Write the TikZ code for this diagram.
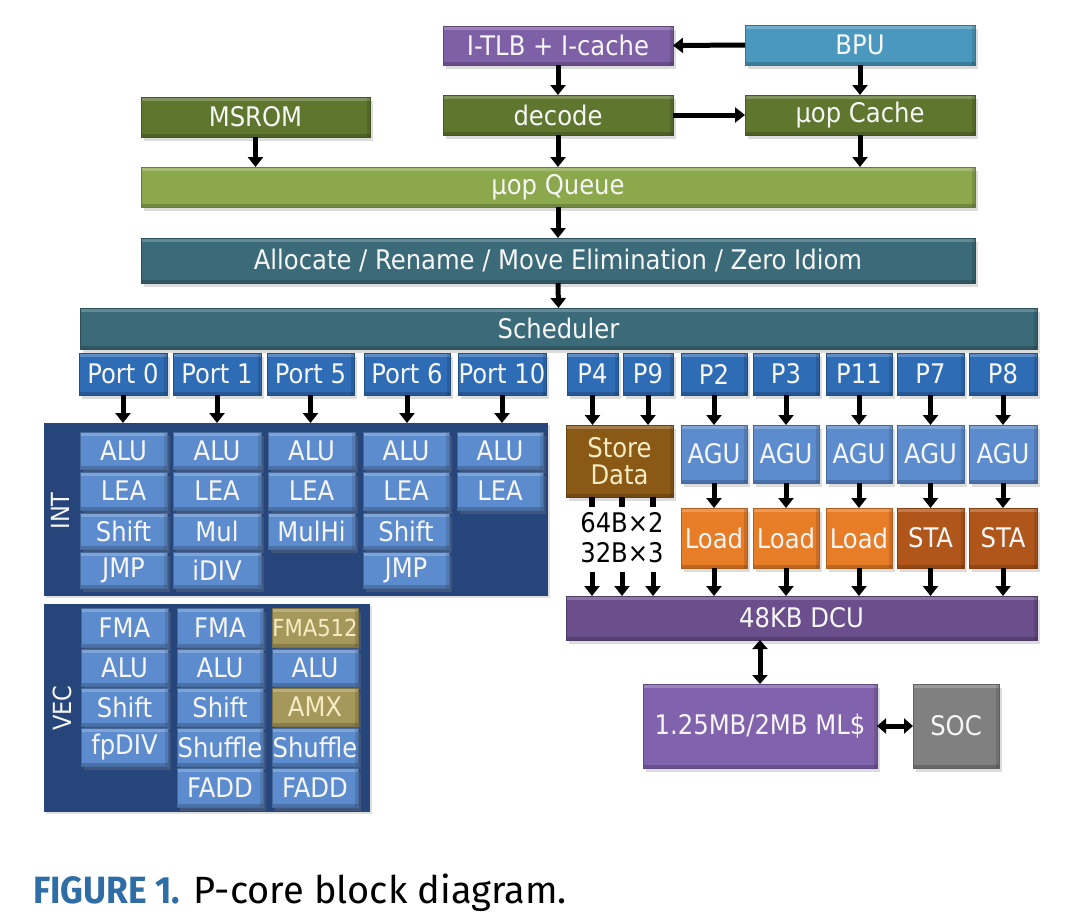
\documentclass[tikz,border=0pt]{standalone}
\usepackage{fontspec}
\setmainfont{DejaVu Sans Condensed}
\newfontfamily\capfont{Fira Sans}
\newfontfamily\capboldfont{Fira Sans}[FakeStretch=0.93]
\usetikzlibrary{arrows.meta,shadows}
\definecolor{cItlb}{RGB}{126,96,166}
\definecolor{cBpu}{RGB}{74,152,190}
\definecolor{cOlive}{RGB}{94,118,46}
\definecolor{cQueue}{RGB}{139,168,76}
\definecolor{cTeal}{RGB}{59,106,120}
\definecolor{cPort}{RGB}{46,108,181}
\definecolor{cPanel}{RGB}{38,69,122}
\definecolor{cCell}{RGB}{92,140,206}
\definecolor{cKhaki}{RGB}{166,152,90}
\definecolor{cStore}{RGB}{139,89,22}
\definecolor{cLoad}{RGB}{232,125,40}
\definecolor{cSta}{RGB}{176,86,26}
\definecolor{cDcu}{RGB}{106,79,140}
\definecolor{cMl}{RGB}{129,99,173}
\definecolor{cSoc}{RGB}{128,128,128}
\definecolor{capblue}{RGB}{46,109,165}
\definecolor{cCream}{RGB}{245,236,196}
\definecolor{cText}{RGB}{246,246,246}
\newcommand\mybox[7]{\node[#1, minimum width={#5-#3}, minimum height={#6-#4}] (#2) at ({(#3+#5)/2},{(#4+#6)/2}) {#7};}
\begin{document}
\begin{tikzpicture}[x=1pt,y=-1pt,
  every node/.style={inner sep=0pt, outer sep=0pt, text=cText, font=\fontsize{27}{28}\selectfont},
  blk/.style={fill=#1, draw=#1!75!black, line width=0.8pt,
    drop shadow={opacity=0.28, shadow xshift=2.5pt, shadow yshift=-3.5pt},
    path picture={
      \fill[white,opacity=0.22] (path picture bounding box.north west) rectangle ([yshift=-4pt]path picture bounding box.north east);
      \fill[black,opacity=0.18] (path picture bounding box.south west) rectangle ([yshift=3pt]path picture bounding box.south east);
      \fill[black,opacity=0.12] (path picture bounding box.north east) rectangle ([xshift=-3pt]path picture bounding box.south east);}},
  panel/.style={fill=cPanel, drop shadow={opacity=0.25, shadow xshift=2pt, shadow yshift=-2pt}},
  cell/.style={blk=cCell},
  port/.style={blk=cPort},
  arr/.style={line width=5pt, -{Triangle[length=10pt,width=15pt]}},
  darr/.style={line width=5pt, {Triangle[length=9pt,width=15pt]}-{Triangle[length=9pt,width=15pt]}},
  stub/.style={line width=6pt}
]
\useasboundingbox (0,0) rectangle (1086,922);
% front end
\mybox{blk=cItlb}{itlb}{443}{26}{673}{65}{I-TLB + I-cache}
\mybox{blk=cBpu}{bpu}{745}{25}{975}{65}{BPU}
\mybox{blk=cOlive}{msrom}{141}{97}{370}{137}{MSROM}
\mybox{blk=cOlive}{decode}{443}{95}{673}{135}{decode}
\mybox{blk=cOlive}{ucache}{745}{95}{975}{135}{µop Cache}
\mybox{blk=cQueue}{queue}{141}{167}{975}{207}{µop Queue}
\mybox{blk=cTeal}{alloc}{141}{238}{975}{283}{Allocate / Rename / Move Elimination / Zero Idiom}
\mybox{blk=cTeal}{sched}{80}{308}{1037}{349}{Scheduler}
% ports
\mybox{port}{p0}{79}{353}{167}{395}{Port 0}
\mybox{port}{p1}{173}{353}{261}{395}{Port 1}
\mybox{port}{p5}{267}{353}{354}{395}{Port 5}
\mybox{port}{p6}{364}{353}{450}{395}{Port 6}
\mybox{port}{p10}{458}{353}{546}{395}{Port 10}
\mybox{port}{p4}{567}{353}{618}{395}{P4}
\mybox{port}{p9}{623}{353}{673}{395}{P9}
\mybox{port}{p2}{681}{353}{747}{395}{P2}
\mybox{port}{p3}{753}{353}{819}{395}{P3}
\mybox{port}{p11}{826}{353}{892}{395}{P11}
\mybox{port}{p7}{897}{353}{964}{395}{P7}
\mybox{port}{p8}{969}{353}{1037}{395}{P8}
% INT panel
\mybox{panel}{intp}{44}{423}{548}{596}{}
\node[rotate=90, font=\fontsize{25}{26}\selectfont] (intlbl) at (60,511) {INT};
\mybox{cell}{i0a}{80}{432}{167}{469}{ALU}
\mybox{cell}{i0b}{80}{472}{167}{510}{LEA}
\mybox{cell}{i0c}{80}{513}{167}{549}{Shift}
\mybox{cell}{i0d}{80}{552}{167}{588}{JMP}
\mybox{cell}{i1a}{173}{432}{261}{469}{ALU}
\mybox{cell}{i1b}{173}{472}{261}{510}{LEA}
\mybox{cell}{i1c}{173}{513}{261}{549}{Mul}
\mybox{cell}{i1d}{173}{552}{261}{588}{iDIV}
\mybox{cell}{i5a}{268}{432}{355}{469}{ALU}
\mybox{cell}{i5b}{268}{472}{355}{510}{LEA}
\mybox{cell}{i5c}{268}{513}{355}{549}{MulHi}
\mybox{cell}{i6a}{363}{432}{449}{469}{ALU}
\mybox{cell}{i6b}{363}{472}{449}{510}{LEA}
\mybox{cell}{i6c}{363}{513}{449}{549}{Shift}
\mybox{cell}{i6d}{363}{552}{449}{588}{JMP}
\mybox{cell}{i10a}{457}{432}{543}{469}{ALU}
\mybox{cell}{i10b}{457}{472}{543}{510}{LEA}
% VEC panel
\mybox{panel}{vecp}{44}{604}{370}{812}{}
\node[rotate=90, font=\fontsize{25}{26}\selectfont] (veclbl) at (62,708) {VEC};
\mybox{cell}{v0a}{81}{608}{168}{647}{FMA}
\mybox{cell}{v0b}{81}{649}{168}{686}{ALU}
\mybox{cell}{v0c}{81}{688}{168}{726}{Shift}
\mybox{cell}{v0d}{81}{728}{168}{766}{fpDIV}
\mybox{cell}{v1a}{177}{608}{263}{647}{FMA}
\mybox{cell}{v1b}{177}{649}{263}{686}{ALU}
\mybox{cell}{v1c}{177}{688}{263}{726}{Shift}
\mybox{cell}{v1d}{177}{728}{263}{766}{Shuffle}
\mybox{cell}{v1e}{177}{768}{263}{807}{FADD}
\mybox{blk=cKhaki, text=cCream, font=\fontsize{23.5}{24}\selectfont}{v5a}{272}{608}{358}{647}{FMA512}
\mybox{cell}{v5b}{272}{649}{358}{686}{ALU}
\mybox{blk=cKhaki, text=cCream}{v5c}{272}{688}{358}{726}{AMX}
\mybox{cell}{v5d}{272}{728}{358}{766}{Shuffle}
\mybox{cell}{v5e}{272}{768}{358}{807}{FADD}
% memory side
\mybox{blk=cStore, text=cCream, align=center, font=\fontsize{27}{27}\selectfont}{sd}{566}{425}{673}{497}{Store\\Data}
\mybox{cell}{agu2}{681}{425}{747}{483}{AGU}
\mybox{cell}{agu3}{753}{425}{819}{483}{AGU}
\mybox{cell}{agu11}{826}{425}{892}{483}{AGU}
\mybox{cell}{agu7}{897}{425}{964}{483}{AGU}
\mybox{cell}{agu8}{969}{425}{1037}{483}{AGU}
\mybox{blk=cLoad}{ld2}{681}{508}{747}{568}{Load}
\mybox{blk=cLoad}{ld3}{753}{508}{819}{568}{Load}
\mybox{blk=cLoad}{ld11}{826}{508}{892}{568}{Load}
\mybox{blk=cSta}{sta7}{897}{508}{964}{568}{STA}
\mybox{blk=cSta}{sta8}{969}{508}{1037}{568}{STA}
\node[text=black] (w1) at (622,523) {64B×2};
\node[text=black] (w2) at (622,553) {32B×3};
\mybox{blk=cDcu}{dcu}{566}{596}{1037}{640}{48KB DCU}
\mybox{blk=cMl}{ml}{643}{684}{877}{768}{1.25MB/2MB ML\$}
\mybox{blk=cSoc}{soc}{913}{684}{999}{768}{SOC}
% coordinates for store-data buses
\coordinate (s1) at (592,507);
\coordinate (s2) at (622,507);
\coordinate (s3) at (653,507);
\coordinate (t1) at (592,572);
\coordinate (t2) at (622,572);
\coordinate (t3) at (653,572);
% connectors
\draw[arr] (bpu.west) -- (itlb.east);
\draw[arr] (itlb.south) -- (decode.north);
\draw[arr] (bpu.south) -- (ucache.north);
\draw[arr] (decode.east) -- (ucache.west);
\draw[arr] (msrom.south) -- (msrom.south |- queue.north);
\draw[arr] (decode.south) -- (decode.south |- queue.north);
\draw[arr] (ucache.south) -- (ucache.south |- queue.north);
\draw[arr] (queue.south) -- (alloc.north);
\draw[arr] (alloc.south) -- (sched.north);
\foreach \p in {p0,p1,p5,p6,p10}{\draw[arr] (\p.south) -- (\p.south |- intp.north);}
\foreach \p in {p4,p9}{\draw[arr] (\p.south) -- (\p.south |- sd.north);}
\foreach \p/\a in {p2/agu2,p3/agu3,p11/agu11,p7/agu7,p8/agu8}{\draw[arr] (\p.south) -- (\a.north);}
\foreach \a/\b in {agu2/ld2,agu3/ld3,agu11/ld11,agu7/sta7,agu8/sta8}{\draw[arr] (\a.south) -- (\b.north);}
\foreach \b in {ld2,ld3,ld11,sta7,sta8}{\draw[arr] (\b.south) -- (\b.south |- dcu.north);}
\foreach \s in {s1,s2,s3}{\draw[stub] (sd.south -| \s) -- (\s);}
\foreach \t in {t1,t2,t3}{\draw[arr] (\t) -- (\t |- dcu.north);}
\draw[darr] (ml.north) -- (ml.north |- dcu.south);
\draw[darr] (ml.east) -- (soc.west);
% caption
\node[anchor=base west, text=black, font=\capfont\fontsize{38}{40}\selectfont] (cap) at (33,903)
  {{\capboldfont\bfseries\color{capblue}FIGURE 1.} P-core block diagram.};
\end{tikzpicture}
\end{document}
